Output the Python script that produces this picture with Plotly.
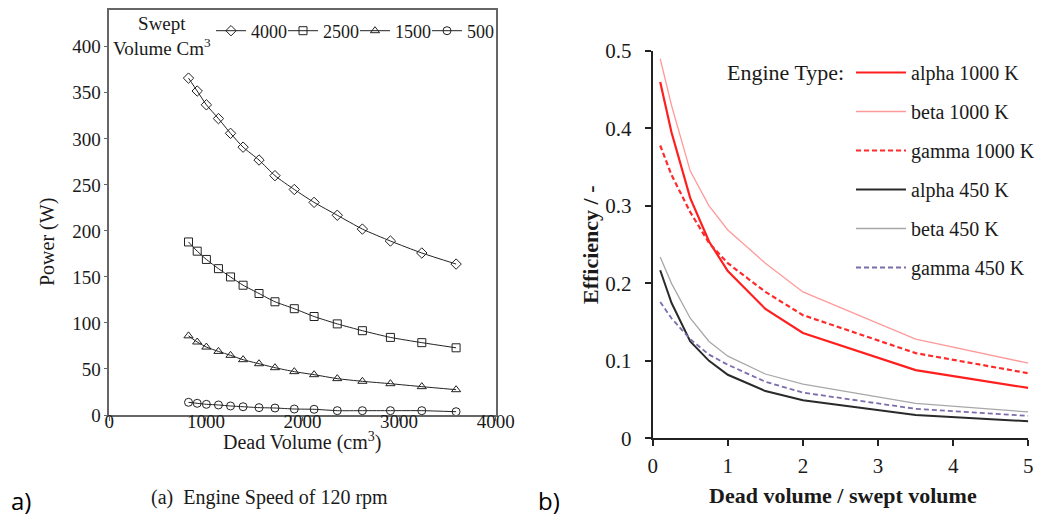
import plotly.graph_objects as go

W, H = 1039, 517
def px(x): return x / W
def py(y): return 1 - y / H

SERIF = "Liberation Serif"
INK = "#1a1a1a"

# ---- Left chart data: Power vs dead volume for swept volumes ----
dead_volume = [820, 910, 1005, 1130, 1255, 1385, 1550, 1715, 1915, 2120, 2360, 2620, 2910, 3235, 3590]
power_4000 = [366, 352, 337, 322, 306, 291, 277, 260, 245, 231, 217, 202, 189, 176, 164]
power_2500 = [188, 178, 169, 159, 150, 141, 132, 123, 115.5, 107, 99, 91.6, 84.3, 78.6, 73]
power_1500 = [86, 79.3, 73.8, 69.1, 64.8, 60.1, 55.7, 51.4, 47.1, 43.8, 39.5, 36.6, 34, 30.8, 27.5]
power_500 = [13.8, 12.7, 11.6, 10.9, 9.8, 9.0, 8.0, 7.6, 6.5, 6.2, 4.7, 4.7, 4.7, 4.7, 3.6]
swept_labels = ["4000", "2500", "1500", "500"]
left_y_ticks = [0, 50, 100, 150, 200, 250, 300, 350, 400]
left_x_ticks = [0, 1000, 2000, 3000, 4000]

# ---- Right chart data: efficiency vs dead/swept volume ratio ----
ratio = [0.1, 0.25, 0.5, 0.75, 1, 1.5, 2, 3.5, 5]
alpha_1000 = [0.460, 0.395, 0.310, 0.254, 0.216, 0.167, 0.136, 0.088, 0.065]
beta_1000 = [0.490, 0.430, 0.345, 0.300, 0.269, 0.226, 0.189, 0.128, 0.097]
gamma_1000 = [0.378, 0.340, 0.292, 0.252, 0.226, 0.189, 0.159, 0.110, 0.084]
alpha_450 = [0.217, 0.175, 0.125, 0.100, 0.082, 0.061, 0.049, 0.030, 0.022]
beta_450 = [0.234, 0.200, 0.155, 0.125, 0.106, 0.083, 0.070, 0.045, 0.034]
gamma_450 = [0.176, 0.155, 0.128, 0.108, 0.095, 0.073, 0.059, 0.038, 0.029]
engine_labels = ["alpha 1000 K", "beta 1000 K", "gamma 1000 K", "alpha 450 K", "beta 450 K", "gamma 450 K"]

fig = go.Figure()

symbols = ["diamond-open", "square-open", "triangle-up-open", "circle-open"]
for yvals, lab, sym in zip([power_4000, power_2500, power_1500, power_500], swept_labels, symbols):
    fig.add_trace(go.Scatter(
        x=dead_volume, y=yvals, name=lab, mode="lines+markers",
        line=dict(color="#222", width=1, shape="spline", smoothing=0.6),
        marker=dict(symbol=sym, size=8, color="#222", line=dict(width=1, color="#222")),
        xaxis="x", yaxis="y", legend="legend"))

styles = [
    dict(color="#ff1f1f", width=2.2, dash="solid"),
    dict(color="#ff9a9a", width=1.3, dash="solid"),
    dict(color="#ff2a2a", width=2.2, dash="5px,3px"),
    dict(color="#2a2a2a", width=2.0, dash="solid"),
    dict(color="#a8a8a8", width=1.3, dash="solid"),
    dict(color="#7c6cab", width=1.8, dash="5px,3px"),
]
for i, (yvals, lab, st) in enumerate(zip([alpha_1000, beta_1000, gamma_1000, alpha_450, beta_450, gamma_450], engine_labels, styles)):
    fig.add_trace(go.Scatter(
        x=ratio, y=yvals, name=lab, mode="lines", line=st,
        xaxis="x2", yaxis="y2", legend="legend2", legendgroup="g%d" % i))

left_dom_x = [px(109.3), px(495.7)]
left_dom_y = [py(415), py(10)]
right_dom_x = [px(652.7), px(1028.3)]
right_dom_y = [py(438.3), py(51)]

fig.update_layout(
    width=W, height=H, margin=dict(l=0, r=0, t=0, b=0, autoexpand=False),
    paper_bgcolor="white", plot_bgcolor="white",
    font=dict(family=SERIF, color=INK, size=19),
    xaxis=dict(domain=left_dom_x, range=[0, 4000], tickvals=left_x_ticks, showgrid=False, zeroline=False,
               showline=True, mirror=True, linecolor="#666", linewidth=1.5, ticks="outside", ticklen=4,
               tickcolor="#666", tickfont=dict(size=19), anchor="y", ticklabelstandoff=-16),
    yaxis=dict(domain=left_dom_y, range=[0, 440], tickvals=left_y_ticks, showgrid=False, zeroline=False,
               showline=True, mirror=True, linecolor="#666", linewidth=1.5, ticks="outside", ticklen=4,
               tickcolor="#666", tickfont=dict(size=19), anchor="x", ticklabelstandoff=-1),
    xaxis2=dict(domain=right_dom_x, range=[0, 5], dtick=1, showgrid=False, zeroline=False,
                showline=True, linecolor="#222", linewidth=2, ticks="outside", ticklen=6, tickwidth=2,
                tickcolor="#222", tickfont=dict(size=21), anchor="y2", ticklabelstandoff=1),
    yaxis2=dict(domain=right_dom_y, range=[0, 0.5], dtick=0.1, showgrid=False, zeroline=False,
                showline=True, linecolor="#222", linewidth=2, ticks="outside", ticklen=6, tickwidth=2,
                tickcolor="#222", tickfont=dict(size=21), anchor="x2", ticklabelstandoff=9),
    legend=dict(orientation="h", x=px(211), xanchor="left", y=py(31), yanchor="middle",
                bgcolor="rgba(0,0,0,0)", font=dict(family=SERIF, size=18, color=INK),
                itemwidth=30, entrywidth=27),
    legend2=dict(orientation="v", x=px(851), xanchor="left", y=py(53), yanchor="top",
                 bgcolor="rgba(0,0,0,0)", font=dict(family=SERIF, size=20, color=INK),
                 itemwidth=50, tracegroupgap=10, traceorder="grouped"),
    showlegend=True,
)

ann = [
    dict(text="Swept<br>Volume Cm<sup>3</sup>", x=px(162), y=py(36), font=dict(size=19)),
    dict(text="Power (W)", x=px(47), y=py(242), textangle=-90, font=dict(size=20)),
    dict(text="Dead Volume (cm<sup>3</sup>)", x=px(302), y=py(441), font=dict(size=20)),
    dict(text="(a)  Engine Speed of 120 rpm", x=px(269), y=py(497), font=dict(size=20)),
    dict(text="a)", x=px(21), y=py(500), font=dict(family="Open Sans", size=24, color="#000")),
    dict(text="b)", x=px(549), y=py(500), font=dict(family="Open Sans", size=24, color="#000")),
    dict(text="Engine Type:", x=px(785), y=py(72), font=dict(size=22)),
    dict(text="<b>Efficiency / -</b>", x=px(590), y=py(245), textangle=-90, font=dict(size=22)),
    dict(text="<b>Dead volume / swept volume</b>", x=px(843), y=py(495), font=dict(size=22)),
]
for a in ann:
    a.update(xref="paper", yref="paper", showarrow=False, xanchor="center", yanchor="middle")
    fig.add_annotation(**a)

fig.write_html("out.html", config={"displayModeBar": False},
               post_script="document.body.style.margin='0';document.documentElement.style.overflow='hidden';document.body.style.overflow='hidden';")
